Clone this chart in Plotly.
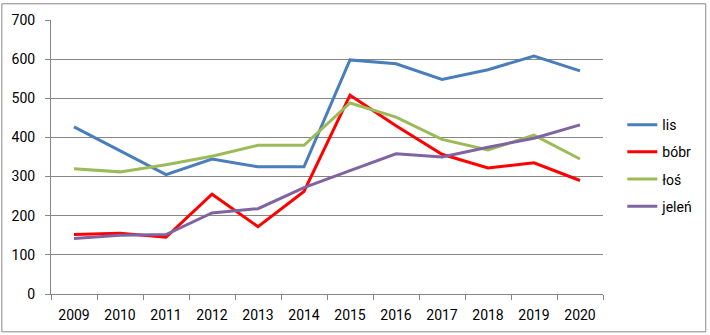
import plotly.graph_objects as go

years = ["2009", "2010", "2011", "2012", "2013", "2014", "2015", "2016", "2017", "2018", "2019", "2020"]
lis = [427, 365, 305, 345, 325, 325, 598, 588, 548, 573, 608, 570]
bobr = [152, 155, 145, 255, 172, 262, 508, 430, 357, 322, 335, 290]
los = [320, 312, 330, 352, 380, 380, 488, 452, 395, 368, 406, 345]
jelen = [142, 150, 152, 207, 218, 272, 315, 358, 350, 375, 398, 432]

series = [("lis", lis, "#4A7EBB"), ("bóbr", bobr, "#FF0000"),
          ("łoś", los, "#9BBB59"), ("jeleń", jelen, "#8064A2")]

fig = go.Figure()
for name, vals, col in series:
    fig.add_trace(go.Scatter(x=years, y=vals, name=name, mode="lines",
                             legendgroup=name,
                             line=dict(color=col, width=3)))

W, H = 710, 335
ml, mr, mt, mb = 50, 104, 17, 39
pw, ph = W - ml - mr, H - mt - mb

fig.update_layout(
    width=W, height=H,
    margin=dict(l=ml, r=mr, t=mt, b=mb),
    paper_bgcolor="white", plot_bgcolor="white",
    font=dict(family="Roboto, Arial, sans-serif", size=14, color="#000000"),
    showlegend=True,
    legend=dict(x=1.035, y=0.675, xanchor="left", yanchor="top",
                font=dict(size=14), tracegroupgap=6, itemwidth=30),
    xaxis=dict(type="category", showgrid=False, showline=True, linecolor="#868686",
               linewidth=1, ticks="outside", tickson="boundaries", ticklen=5,
               tickcolor="#868686", range=[-0.5, 11.5], ticklabelstandoff=8),
    yaxis=dict(range=[0, 700], dtick=100, showgrid=True, gridcolor="#868686",
               gridwidth=1, showline=True, linecolor="#868686", ticks="outside",
               ticklen=5, tickcolor="#868686", zeroline=False, ticklabelstandoff=7),
    shapes=[dict(type="rect", xref="paper", yref="paper",
                 x0=(0.5 - ml) / pw, x1=(W - 0.5 - ml) / pw,
                 y0=-(mb - 0.5) / ph, y1=(H - mb - 0.5) / ph,
                 line=dict(color="#888888", width=1), layer="below")],
)

fig.write_html("out.html")
